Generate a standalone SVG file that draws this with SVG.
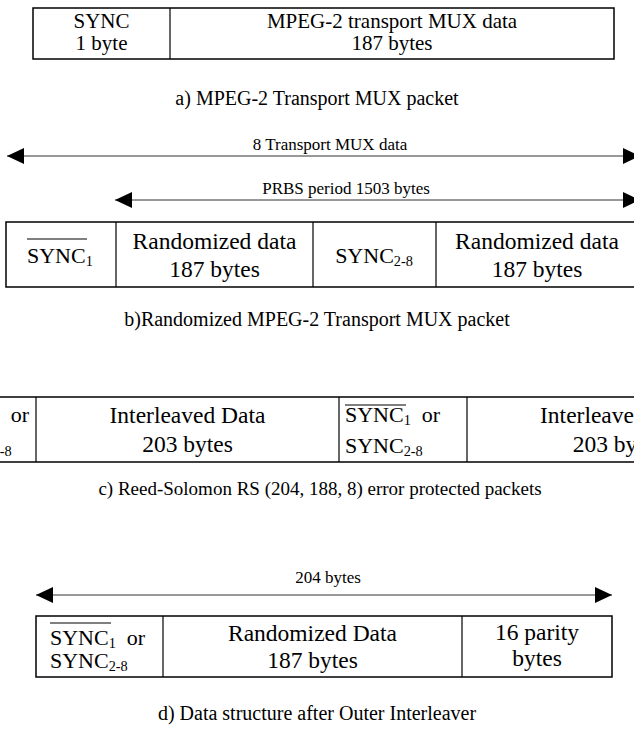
<svg xmlns="http://www.w3.org/2000/svg" width="634" height="732" viewBox="0 0 634 732">
<style>
  text { font-family: "Liberation Serif", "Times New Roman", serif; fill: #000; }
  .box { fill: #fff; stroke: #000; stroke-width: 1.5; }
  .div { stroke: #000; stroke-width: 1.2; }
  .ov { stroke: #000; stroke-width: 1.2; }
  .arr { stroke: #333; stroke-width: 1; fill: none; marker-start: url(#ah); marker-end: url(#ah); }
  .fa { font-size: 21px; }
  .fb { font-size: 23.5px; }
  .fs { font-size: 22px; }
  .fdat { font-size: 23.5px; }
  .lbl { font-size: 17px; }
  .cap { font-size: 20px; }
  .mid { text-anchor: middle; }
  .sub { font-size: 65%; }
</style>
<defs>
  <marker id="ah" viewBox="0 0 17 16" refX="17" refY="8" markerWidth="17" markerHeight="16" markerUnits="userSpaceOnUse" orient="auto-start-reverse">
    <path d="M0,0 L17,8 L0,16 Z" fill="#000"/>
  </marker>
</defs>

<g id="connectors">
  <line class="arr" x1="7" y1="156" x2="640" y2="156"/>
  <line class="arr" x1="115" y1="200" x2="640" y2="200"/>
  <line class="arr" x1="36" y1="595" x2="612" y2="595"/>
</g>

<g id="packet-a">
  <rect class="box" x="33" y="8" width="581" height="51"/>
  <line class="div" x1="170" y1="8" x2="170" y2="59"/>
  <text class="fa mid" x="101.5" y="28">SYNC</text>
  <text class="fa mid" x="101.5" y="50">1 byte</text>
  <text class="fa mid" x="392" y="28">MPEG-2 transport MUX data</text>
  <text class="fa mid" x="392" y="50">187 bytes</text>
</g>
<text id="caption-a" class="cap mid" x="317" y="105">a) MPEG-2 Transport MUX packet</text>

<g id="label-8mux"><text class="lbl mid" x="330" y="150">8 Transport MUX data</text></g>
<g id="label-prbs"><text class="lbl mid" x="346" y="194">PRBS period 1503 bytes</text></g>

<g id="packet-b">
  <rect class="box" x="6" y="222" width="640" height="65"/>
  <line class="div" x1="116" y1="222" x2="116" y2="287"/>
  <line class="div" x1="313" y1="222" x2="313" y2="287"/>
  <line class="div" x1="436" y1="222" x2="436" y2="287"/>
  <line class="ov" x1="27" y1="239" x2="87" y2="239"/>
  <text class="fs" x="27" y="263">SYNC<tspan class="sub" dy="3">1</tspan></text>
  <text class="fb mid" x="214.5" y="249">Randomized data</text>
  <text class="fb mid" x="214.5" y="277">187 bytes</text>
  <text class="fs mid" x="374" y="263">SYNC<tspan class="sub" dy="3">2-8</tspan></text>
  <text class="fb mid" x="537" y="249">Randomized data</text>
  <text class="fb mid" x="537" y="277">187 bytes</text>
</g>
<text id="caption-b" class="cap mid" x="317" y="326">b)Randomized MPEG-2 Transport MUX packet</text>

<g id="packet-c">
  <rect class="box" x="-10" y="397" width="660" height="65"/>
  <line class="div" x1="36" y1="397" x2="36" y2="462"/>
  <line class="div" x1="339" y1="397" x2="339" y2="462"/>
  <line class="div" x1="467" y1="397" x2="467" y2="462"/>
  <line class="ov" x1="-66" y1="405" x2="-5" y2="405"/>
  <text class="fs" x="-66" y="422" xml:space="preserve">SYNC<tspan class="sub" dy="3">1</tspan><tspan dy="-3">  or</tspan></text>
  <text class="fs" x="-66" y="453">SYNC<tspan class="sub" dy="3">2-8</tspan></text>
  <text class="fdat mid" x="187.5" y="423">Interleaved Data</text>
  <text class="fdat mid" x="187.5" y="452">203 bytes</text>
  <line class="ov" x1="345" y1="405" x2="406" y2="405"/>
  <text class="fs" x="345" y="422" xml:space="preserve">SYNC<tspan class="sub" dy="3">1</tspan><tspan dy="-3">  or</tspan></text>
  <text class="fs" x="345" y="453">SYNC<tspan class="sub" dy="3">2-8</tspan></text>
  <text class="fdat mid" x="618" y="423">Interleaved Data</text>
  <text class="fdat mid" x="618" y="452">203 bytes</text>
</g>
<text id="caption-c" class="cap mid" x="320" y="495" style="font-size:19px">c) Reed-Solomon RS (204, 188, 8) error protected packets</text>

<g id="label-204"><text class="lbl mid" x="328" y="583">204 bytes</text></g>

<g id="packet-d">
  <rect class="box" x="36" y="616" width="576" height="61"/>
  <line class="div" x1="163" y1="616" x2="163" y2="677"/>
  <line class="div" x1="462" y1="616" x2="462" y2="677"/>
  <line class="ov" x1="50" y1="623" x2="111" y2="623"/>
  <text class="fs" x="50" y="645" xml:space="preserve">SYNC<tspan class="sub" dy="3">1</tspan><tspan dy="-3">  or</tspan></text>
  <text class="fs" x="50" y="668">SYNC<tspan class="sub" dy="3">2-8</tspan></text>
  <text class="fdat mid" x="312.5" y="641">Randomized Data</text>
  <text class="fdat mid" x="312.5" y="668">187 bytes</text>
  <text class="fdat mid" x="537" y="640">16 parity</text>
  <text class="fdat mid" x="537" y="666">bytes</text>
</g>
<text id="caption-d" class="cap mid" x="317" y="720">d) Data structure after Outer Interleaver</text>
</svg>
